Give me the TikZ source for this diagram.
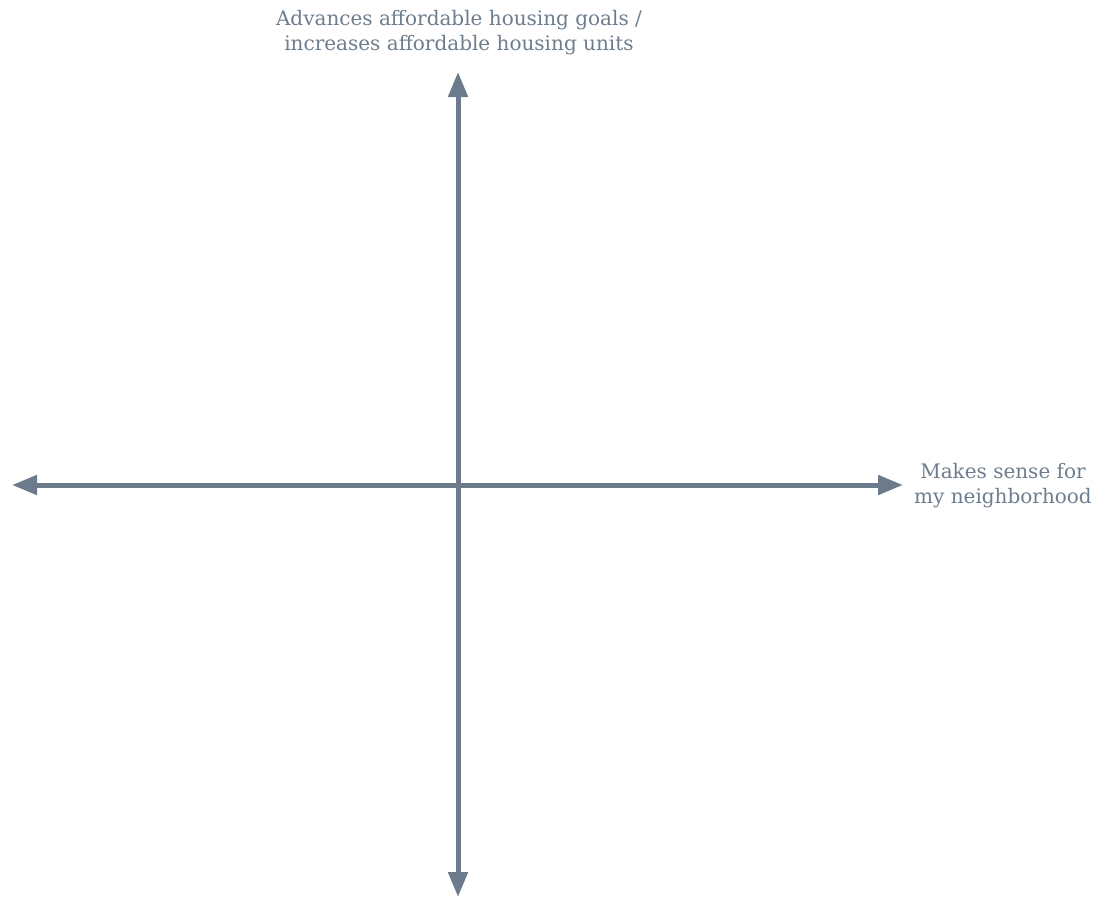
\documentclass[tikz,border=0pt]{standalone}
\usepackage{fontspec}
\setmainfont{DejaVu Serif}
\usetikzlibrary{arrows.meta}
\definecolor{axisgray}{HTML}{6C7B8B}
\definecolor{labelgray}{HTML}{6E7D8D}
\tikzset{
  axisline/.style={draw=axisgray, line width=5pt, -{Triangle[length=25pt,width=19pt]}},
  axislabel/.style={text=labelgray, align=center, inner sep=0pt, font=\fontsize{20}{25}\selectfont}
}
\begin{document}
\begin{tikzpicture}[x=1pt,y=-1pt]
\useasboundingbox (0,0) rectangle (1103,900);
\coordinate (o) at (458,485);
\coordinate (top) at (458,72);
\coordinate (bottom) at (458,897);
\coordinate (left) at (12,485);
\coordinate (right) at (903,485);
\draw[axisline] (o) -- (top);
\draw[axisline] (o) -- (bottom);
\draw[axisline] (o) -- (left);
\draw[axisline] (o) -- (right);
\node[axislabel] (ylabel) at (459,33) {Advances affordable housing goals /\\increases affordable housing units};
\node[axislabel] (xlabel) at (1003,486) {Makes sense for\\my neighborhood};
\end{tikzpicture}
\end{document}
